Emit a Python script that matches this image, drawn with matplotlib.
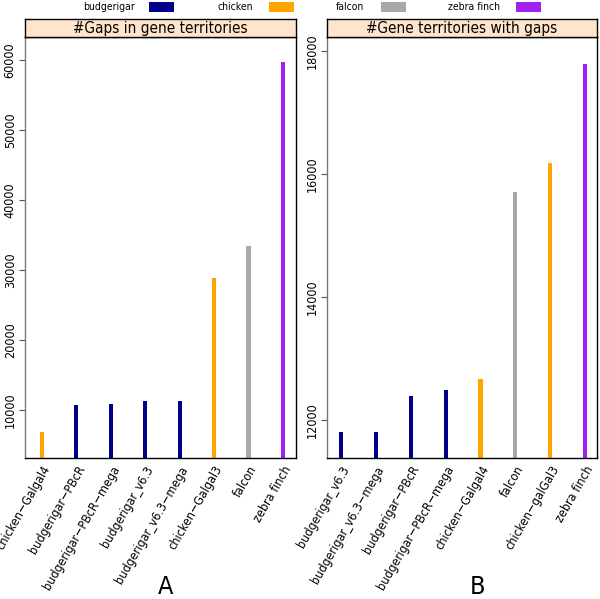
import matplotlib
matplotlib.use("Agg")
import matplotlib.pyplot as plt
from matplotlib.patches import Rectangle

plt.rcParams['font.family'] = ['DejaVu Sans']
plt.rcParams['font.stretch'] = 'condensed'

# ---- data ----
species = ["budgerigar", "chicken", "falcon", "zebra finch"]
species_colors = ["#00008B", "#FFA500", "#A9A9A9", "#A020F0"]

gaps_labels = ["chicken\u2212Galgal4", "budgerigar\u2212PBcR", "budgerigar\u2212PBcR\u2212mega",
               "budgerigar_v6.3", "budgerigar_v6.3\u2212mega", "chicken\u2212Galgal3",
               "falcon", "zebra finch"]
gaps_species = ["chicken", "budgerigar", "budgerigar", "budgerigar", "budgerigar",
                "chicken", "falcon", "zebra finch"]
gaps_values = [6760, 10710, 10860, 11290, 11300, 28900, 33430, 59700]

terr_labels = ["budgerigar_v6.3", "budgerigar_v6.3\u2212mega", "budgerigar\u2212PBcR",
               "budgerigar\u2212PBcR\u2212mega", "chicken\u2212Galgal4", "falcon",
               "chicken\u2212galGal3", "zebra finch"]
terr_species = ["budgerigar", "budgerigar", "budgerigar", "budgerigar", "chicken",
                "falcon", "chicken", "zebra finch"]
terr_values = [11800, 11810, 12390, 12480, 12660, 15700, 16170, 17790]

W, H = 600, 599
fig = plt.figure(figsize=(W / 100, H / 100), dpi=100)


def fx(x):
    return x / W


def fy(y):
    return 1 - y / H


def panel(left, right, labels, sp, values, ylim, yticks, title, xlim, letter, letter_x):
    top_strip, top_plot, bottom = 19, 37, 458
    ax = fig.add_axes([fx(left), fy(bottom), fx(right - left), (bottom - top_plot) / H])
    col = {s: c for s, c in zip(species, species_colors)}
    xs = list(range(1, len(values) + 1))
    for x, v, s in zip(xs, values, sp):
        ax.bar(x, v - ylim[0], bottom=ylim[0], width=0.12, color=col[s], linewidth=0)
    ax.set_xlim(*xlim)
    ax.set_ylim(*ylim)
    ax.set_xticks(xs)
    ax.set_xticklabels(labels, rotation=60, ha='right', rotation_mode='anchor', fontsize=9)
    ax.set_yticks(yticks)
    ax.set_yticklabels([str(t) for t in yticks], rotation=90, va='center', fontsize=9)
    ax.tick_params(axis='x', length=0, pad=4)
    ax.tick_params(axis='y', length=4, width=0.8, color='#555555', pad=2)
    ax.spines['left'].set_color('#777777')
    for s in ['bottom', 'right', 'top']:
        ax.spines[s].set_color('black')
    for s in ax.spines.values():
        s.set_linewidth(1.0)
    # strip
    sx = fig.add_axes([fx(left), fy(top_plot), fx(right - left), (top_plot - top_strip) / H])
    sx.set_facecolor('#FFE5CC')
    sx.set_xticks([])
    sx.set_yticks([])
    for s in sx.spines.values():
        s.set_color('black')
        s.set_linewidth(1.0)
    sx.text(0.5, 0.45, title, ha='center', va='center', fontsize=11, transform=sx.transAxes)
    fig.text(fx(letter_x), fy(587), letter, fontsize=18, ha='center', va='center')
    return ax


panel(25, 296, gaps_labels, gaps_species, gaps_values, (3100, 63300),
      [10000, 20000, 30000, 40000, 50000, 60000], "#Gaps in gene territories",
      (0.506, 8.378), "A", 166)
panel(327, 597, terr_labels, terr_species, terr_values, (11380, 18227),
      [12000, 14000, 16000, 18000], "#Gene territories with gaps",
      (0.60, 8.34), "B", 478)

# legend on top
leg_text_x = [83, 217, 336, 448]
leg_rect_x = [149, 269, 381, 516]
for name, c, tx, rx in zip(species, species_colors, leg_text_x, leg_rect_x):
    fig.text(fx(tx), fy(7), name, fontsize=7.5, ha='left', va='center')
    fig.patches.append(Rectangle((fx(rx), fy(12)), fx(25), 10 / H, transform=fig.transFigure,
                                 facecolor=c, edgecolor='none'))

fig.savefig("out.png", dpi=100)
